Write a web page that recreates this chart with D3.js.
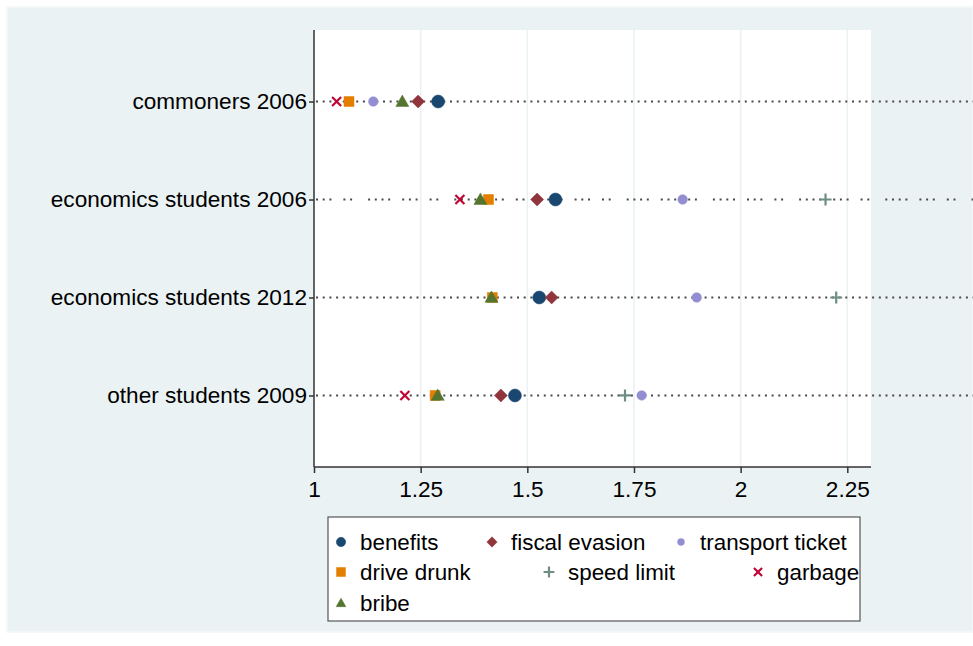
<!DOCTYPE html>
<html><head><meta charset="utf-8">
<script src="https://cdn.jsdelivr.net/npm/d3@7"></script>
<style>body{margin:0;background:#fff}svg{display:block}text{font-family:Arial,"Liberation Sans",sans-serif;fill:#000}</style>
</head><body><svg id="c" width="973" height="646"></svg>
<script>
const categories = ["commoners 2006","economics students 2006","economics students 2012","other students 2009"];
const benefits        = [1.291, 1.566, 1.528, 1.471];
const fiscalEvasion   = [1.244, 1.523, 1.557, 1.438];
const transportTicket = [1.139, 1.864, 1.897, 1.768];
const driveDrunk      = [1.082, 1.409, 1.418, 1.284];
const speedLimit      = [null, 2.199, 2.224, 1.729];
const garbage         = [1.053, 1.342, null, 1.213];
const bribe           = [1.207, 1.390, 1.416, 1.290];
const xTicks = [1, 1.25, 1.5, 1.75, 2, 2.25];
const xTickLabels = ["1","1.25","1.5","1.75","2","2.25"];
const seriesNames = ["benefits","fiscal evasion","transport ticket","drive drunk","speed limit","garbage","bribe"];

const series = [
  {name:seriesNames[0], values:benefits, color:"#1a476f", shape:"circle", s:6.5},
  {name:seriesNames[1], values:fiscalEvasion, color:"#90353b", shape:"diamond", s:6.5},
  {name:seriesNames[2], values:transportTicket, color:"#938dd2", shape:"circle", s:4.8},
  {name:seriesNames[3], values:driveDrunk, color:"#e37e00", shape:"square", s:5},
  {name:seriesNames[4], values:speedLimit, color:"#6e8e84", shape:"plus", s:6},
  {name:seriesNames[5], values:garbage, color:"#c10534", shape:"x", s:4.5},
  {name:seriesNames[6], values:bribe, color:"#55752f", shape:"triangle", s:6.5}
];

function markerPath(shape, s){
  switch(shape){
    case "circle": return `M${-s},0A${s},${s} 0 1,0 ${s},0A${s},${s} 0 1,0 ${-s},0Z`;
    case "diamond": return `M0,${-s}L${s},0L0,${s}L${-s},0Z`;
    case "square": return `M${-s},${-s}H${s}V${s}H${-s}Z`;
    case "triangle": return `M0,${-s}L${s*1.0},${s*0.75}L${-s*1.0},${s*0.75}Z`;
    case "plus": return `M${-s},0H${s}M0,${-s}V${s}`;
    case "x": return `M${-s},${-s}L${s},${s}M${s},${-s}L${-s},${s}`;
  }
}
function drawMarker(g, shape, s, color){
  const stroke = shape==="plus"||shape==="x";
  return g.append("path").attr("d", markerPath(shape,s))
    .attr("fill", stroke?"none":color)
    .attr("stroke", color).attr("stroke-width", stroke?2.2:0.5);
}

const svg = d3.select("#c");
const bg = "#eaf2f3";
svg.append("rect").attr("x",7).attr("y",7).attr("width",966).attr("height",625)
  .attr("fill",bg).attr("stroke","#f4f8f9").attr("stroke-width",1.5);

const pLeft=314, pRight=871, pTop=30, pBottom=467;
const x = d3.scaleLinear().domain([1, 2.25]).range([314, 847.3]);
const y = d3.scalePoint().domain(categories).range([pTop,pBottom]).padding(0.73);

svg.append("rect").attr("x",pLeft).attr("y",pTop).attr("width",pRight-pLeft).attr("height",pBottom-pTop).attr("fill","#fff");

// gridlines
svg.append("g").selectAll("line").data(xTicks.slice(1)).join("line")
  .attr("x1",d=>x(d)).attr("x2",d=>x(d)).attr("y1",pTop).attr("y2",pBottom)
  .attr("stroke",bg).attr("stroke-width",1.6);

// dotted row lines
svg.append("g").selectAll("line").data(categories).join("line")
  .attr("x1",pLeft+2).attr("x2",973).attr("y1",d=>y(d)).attr("y2",d=>y(d))
  .attr("stroke","#4a4a4a").attr("stroke-width",2)
  .attr("stroke-dasharray",(d,i)=> i===1 ? "2 4.7 2 4.7 2 12 2 4.7 2 16 2 4.7 2 4.7 2 4.7 2 12" : "2 4.7");

const font = "Arial, 'Liberation Sans', sans-serif";
// x axis
const xAxis = d3.axisBottom(x).tickValues(xTicks).tickFormat((d,i)=>xTickLabels[i]).tickSize(6).tickPadding(8).tickSizeOuter(0);
const gx = svg.append("g").attr("transform",`translate(0,${pBottom})`).call(xAxis);
gx.select(".domain").attr("d",`M${pLeft},0H${pRight}`).attr("stroke","#333").attr("stroke-width",1.5);
gx.selectAll(".tick line").attr("stroke","#333").attr("stroke-width",1.5);
gx.selectAll(".tick text").style("font-size","22.6px").attr("fill","#000").style("font-family",font);

// y axis
const yAxis = d3.axisLeft(y).tickSize(5).tickPadding(2).tickSizeOuter(0);
const gy = svg.append("g").attr("transform",`translate(${pLeft},0)`).call(yAxis);
gy.select(".domain").attr("d",`M0,${pTop}V${pBottom}`).attr("stroke","#333").attr("stroke-width",1.5);
gy.selectAll(".tick line").attr("stroke","#333").attr("stroke-width",1.5);
gy.selectAll(".tick text").style("font-size","22.6px").attr("fill","#000").style("font-family",font);

// markers
series.forEach(sr=>{
  const g = svg.append("g");
  sr.values.forEach((v,i)=>{
    if(v==null) return;
    drawMarker(g, sr.shape, sr.s, sr.color).attr("transform",`translate(${x(v)},${y(categories[i])})`);
  });
});

// legend
const lg = svg.append("g");
lg.append("rect").attr("x",328).attr("y",517).attr("width",532).attr("height",104)
  .attr("fill","#fff").attr("stroke","#555").attr("stroke-width",1.2);
const legPos = [[341,542],[492,542],[681,542],[341,572],[549,572],[758,572],[341,603]];
series.forEach((sr,i)=>{
  const [mx,my]=legPos[i];
  const scale = {circle:0.72,diamond:0.8,square:0.9,triangle:0.75,plus:0.9,x:0.9}[sr.shape];
  drawMarker(lg, sr.shape, sr.s*scale, sr.color).attr("transform",`translate(${mx},${my})`);
  lg.append("text").attr("x",mx+19).attr("y",my+8).style("font-size","22.4px").text(sr.name);
});
</script></body></html>
